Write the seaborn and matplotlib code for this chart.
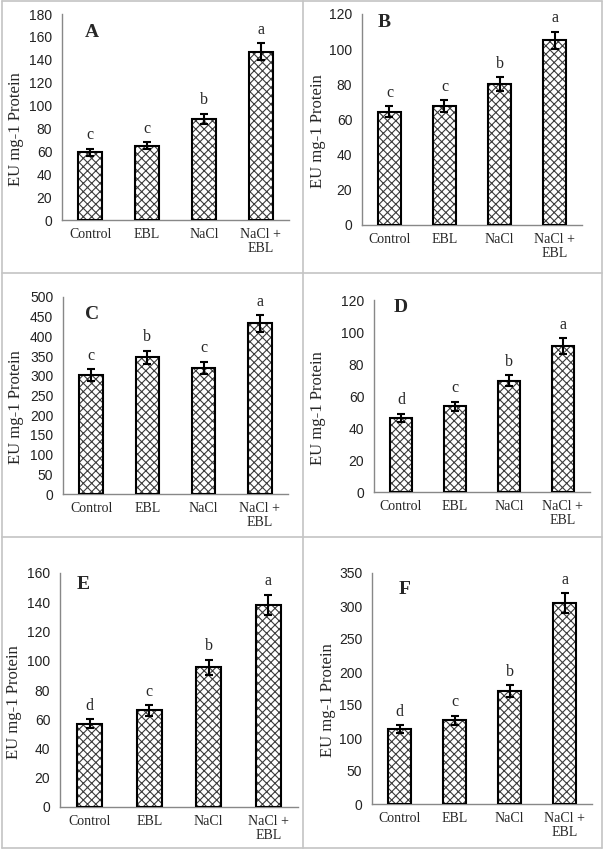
import matplotlib
matplotlib.use("Agg")
import matplotlib.pyplot as plt
import seaborn as sns
from matplotlib.lines import Line2D

sns.set_style("white")
plt.rcParams["hatch.linewidth"] = 0.8

categories = ["Control", "EBL", "NaCl", "NaCl +\nEBL"]

vals_A = [59, 65, 88.5, 147]
err_A = [3, 3, 4.5, 7.5]
let_A = ["c", "c", "b", "a"]

vals_B = [64.5, 67.5, 80, 105]
err_B = [3, 3.5, 4, 5]
let_B = ["c", "c", "b", "a"]

vals_C = [302, 347, 320, 433]
err_C = [15, 17, 16, 21]
let_C = ["c", "b", "c", "a"]

vals_D = [46.5, 53.5, 69.5, 91]
err_D = [2.5, 3, 3.5, 5]
let_D = ["d", "c", "b", "a"]

vals_E = [57, 66, 95.5, 138]
err_E = [3, 3.5, 5, 7]
let_E = ["d", "c", "b", "a"]

vals_F = [113, 127, 171, 304]
err_F = [6, 7, 9, 15]
let_F = ["d", "c", "b", "a"]

panel_names = ["A", "B", "C", "D", "E", "F"]
ymax = [180, 120, 500, 120, 160, 350]
ystep = [20, 20, 50, 20, 20, 50]

W, H = 604, 850
fig = plt.figure(figsize=(W / 100, H / 100), dpi=100)

# panel boxes (pixel: left, top, right, bottom)
boxes = [(62, 14, 289, 220), (362, 14, 582, 225),
         (63, 297, 288, 494), (374, 300, 590, 492),
         (60, 573, 298, 807), (372, 573, 592, 804)]
letter_pos = [(0.10, 0.91), (0.07, 0.96), (0.10, 0.91),
              (0.09, 0.96), (0.07, 0.95), (0.12, 0.93)]
ylab_px = [8, 310, 8, 310, 6, 320]  # left edge of y label in pixels

# grid dividers of the figure table
gc = "#c4c4c4"
for (x0, y0, x1, y1) in [(2, 1, 602, 1), (2, 848, 602, 848), (2, 1, 2, 848),
                         (602, 1, 602, 848), (302.5, 1, 302.5, 848),
                         (2, 273, 602, 273), (2, 537, 602, 537)]:
    fig.add_artist(Line2D([x0 / W, x1 / W], [1 - y0 / H, 1 - y1 / H],
                          color=gc, lw=1.2, transform=fig.transFigure))

data = [(vals_A, err_A, let_A), (vals_B, err_B, let_B), (vals_C, err_C, let_C),
        (vals_D, err_D, let_D), (vals_E, err_E, let_E), (vals_F, err_F, let_F)]

serif = ["Liberation Serif", "DejaVu Serif"]
sans = ["Liberation Sans", "DejaVu Sans"]
bw = 0.42

for i, ((vals, errs, lets), box) in enumerate(zip(data, boxes)):
    l, t, r, b = box
    ax = fig.add_axes([l / W, 1 - b / H, (r - l) / W, (b - t) / H])
    sns.barplot(x=categories, y=vals, ax=ax, color="white", edgecolor="#3c3c3c",
                hatch="xxxx", linewidth=0, width=bw, errorbar=None, saturation=1)
    ax.bar(range(len(categories)), vals, width=bw, fill=False,
           edgecolor="black", linewidth=1.5, zorder=3)
    ax.errorbar(range(len(categories)), vals, yerr=errs, fmt="none",
                ecolor="black", elinewidth=1.5, capsize=3, capthick=1.5, zorder=4)
    for j, (v, e, s) in enumerate(zip(vals, errs, lets)):
        ax.annotate(s, (j, v + e), xytext=(0, 4), textcoords="offset points",
                    ha="center", va="bottom", fontsize=11.5, family=serif)
    ax.set_xlim(-0.5, 3.5)
    ax.set_ylim(0, ymax[i])
    ax.set_yticks(range(0, ymax[i] + 1, ystep[i]))
    ax.set_xticks(range(4))
    ax.set_xticklabels(categories, family=serif, fontsize=10, linespacing=1.05)
    ax.set_xticks([-0.5, 0.5, 1.5, 2.5, 3.5], minor=True)
    ax.tick_params(axis="x", which="major", length=0, pad=6)
    ax.tick_params(axis="x", which="minor", length=4, color="#888888", width=1)
    ax.tick_params(axis="y", length=4, color="#888888", width=1, pad=3,
                   labelsize=10, labelcolor="#222222")
    for lab in ax.get_yticklabels():
        lab.set_family(sans)
    for sp in ["top", "right"]:
        ax.spines[sp].set_visible(False)
    for sp in ["left", "bottom"]:
        ax.spines[sp].set_color("#888888")
        ax.spines[sp].set_linewidth(1)
    ax.set_ylabel("")
    ax.set_xlabel("")
    cy = 1 - ((t + b) / 2 + 12) / H
    fig.text(ylab_px[i] / W, cy, "EU mg-1 Protein", rotation=90,
             family=serif, fontsize=12, ha="left", va="center")
    ax.text(letter_pos[i][0], letter_pos[i][1], panel_names[i],
            transform=ax.transAxes, family=serif, fontsize=14,
            fontweight="bold", ha="left", va="center")

fig.savefig("out.png", dpi=100)
